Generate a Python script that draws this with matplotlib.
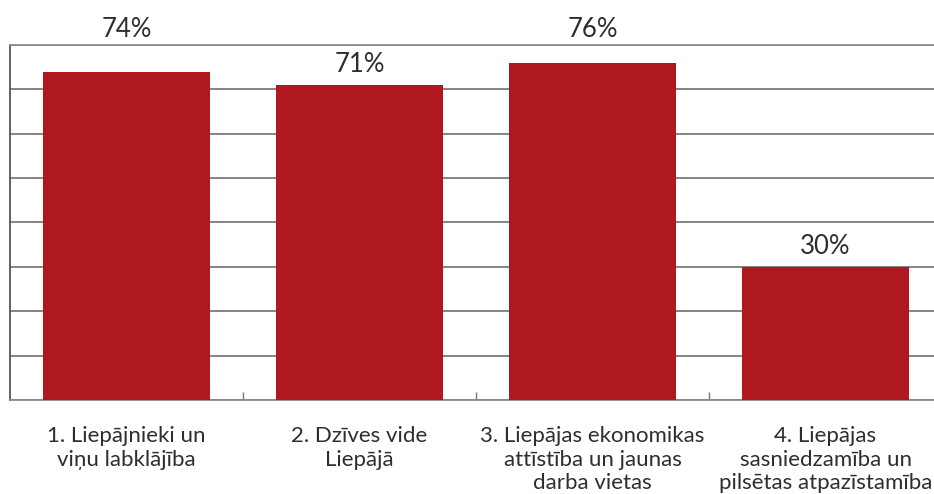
import numpy as np
import matplotlib
matplotlib.use("Agg")
import matplotlib.pyplot as plt

# dati
kategorijas = [
    "1. Liepājnieki un\nviņu labklājība",
    "2. Dzīves vide\nLiepājā",
    "3. Liepājas ekonomikas\nattīstība un jaunas\ndarba vietas",
    "4. Liepājas\nsasniedzamība un\npilsētas atpazīstamība",
]
vertibas = [74, 71, 76, 30]
y_max = 80
y_soli = np.arange(0, 81, 10)

plt.rcParams['font.family'] = ['Lato', 'DejaVu Sans']

fig = plt.figure(figsize=(9.34, 4.94), dpi=100)
ax = fig.add_axes([10 / 934, 94 / 494, 932 / 934, 355 / 494])

x = np.arange(len(vertibas))
ax.bar(x, vertibas, width=0.72, color='#b01820', zorder=3)

ax.set_xlim(-0.5, len(vertibas) - 0.5)
ax.set_ylim(0, y_max)

# režģis
ax.set_yticks(y_soli)
ax.set_yticklabels([])
ax.yaxis.grid(True, color='#6f6f6f', linewidth=1.2, zorder=0)
ax.tick_params(axis='y', length=0)

# kategoriju nosaukumi + ķeksīši starp kategorijām
ax.set_xticks(x)
ax.set_xticklabels(kategorijas, fontsize=16, color='#2e2e2e', linespacing=1.22)
ax.tick_params(axis='x', length=0, pad=19)
ax.set_xticks(x[:-1] + 0.5, minor=True)
ax.tick_params(axis='x', which='minor', direction='in', length=6, width=1, color='#777777')

ax.spines['left'].set_color('#555555')
ax.spines['left'].set_linewidth(1.3)
for s in ['top', 'bottom', 'right']:
    ax.spines[s].set_color('#8a8a8a')
    ax.spines[s].set_linewidth(1.3)

# vērtību etiķetes
for i, v in enumerate(vertibas):
    if v + 7 > y_max:
        ax.annotate(f"{v}%", xy=(i, y_max), xytext=(0, 2), textcoords='offset points',
                    ha='center', va='bottom', fontsize=18.5, color='#2e2e2e', annotation_clip=False)
    else:
        ax.annotate(f"{v}%", xy=(i, v), xytext=(0, 6), textcoords='offset points',
                    ha='center', va='bottom', fontsize=18.5, color='#2e2e2e')

fig.savefig("out.png", dpi=100)
